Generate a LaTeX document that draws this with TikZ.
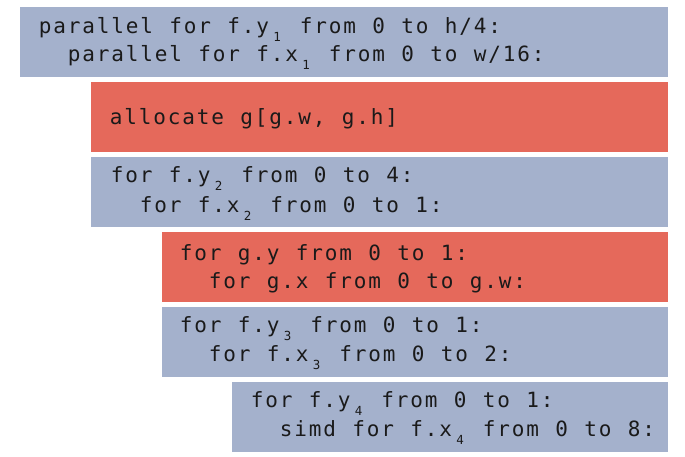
\documentclass[tikz,border=0pt]{standalone}
\usepackage{fontspec}
\newfontfamily\codefont{DejaVu Sans Mono}
\definecolor{boxblue}{HTML}{A4B1CC}
\definecolor{boxred}{HTML}{E5695B}
\definecolor{codeink}{HTML}{1A1A1A}
\newlength\cellw
\setlength\cellw{14.5pt}
\ExplSyntaxOn
\NewDocumentCommand\mono{m}{ \str_map_inline:nn {#1} { \makebox[\cellw][c]{##1} } }
\ExplSyntaxOff
\newcommand\sbs[1]{\makebox[\cellw][c]{\raisebox{-8pt}{\fontsize{12.5}{12.5}\selectfont #1}}}
\tikzset{
  panel/.style={draw=none, inner sep=0pt, outer sep=0pt, anchor=north west,
    minimum height=70pt},
  bluepanel/.style={panel, fill=boxblue},
  redpanel/.style={panel, fill=boxred},
  codeline/.style={anchor=base west, inner sep=0pt, outer sep=0pt,
    text=codeink, font=\codefont\fontsize{21}{21}\selectfont}
}
\begin{document}
\begin{tikzpicture}[x=1pt, y=-1pt]
\useasboundingbox (0,0) rectangle (685,457);
% panels
\node[bluepanel, minimum width=648pt] (p1) at (20,7) {};
\node[redpanel,  minimum width=577pt] (p2) at (91,82) {};
\node[bluepanel, minimum width=577pt] (p3) at (91,157) {};
\node[redpanel,  minimum width=506pt] (p4) at (162,232) {};
\node[bluepanel, minimum width=506pt] (p5) at (162,307) {};
\node[bluepanel, minimum width=436pt] (p6) at (232,382) {};
% code
\node[codeline] (c1a) at ([shift={(18,27)}]p1.north west) {\mono{parallel for f.y}\sbs{1}\mono{ from 0 to h/4:}};
\node[codeline] (c1b) at ([shift={(47,55)}]p1.north west) {\mono{parallel for f.x}\sbs{1}\mono{ from 0 to w/16:}};
\node[codeline] (c2)  at ([shift={(18,43)}]p2.north west) {\mono{allocate g[g.w, g.h]}};
\node[codeline] (c3a) at ([shift={(19,26)}]p3.north west) {\mono{for f.y}\sbs{2}\mono{ from 0 to 4:}};
\node[codeline] (c3b) at ([shift={(48,55)}]p3.north west) {\mono{for f.x}\sbs{2}\mono{ from 0 to 1:}};
\node[codeline] (c4a) at ([shift={(17,28)}]p4.north west) {\mono{for g.y from 0 to 1:}};
\node[codeline] (c4b) at ([shift={(46,56)}]p4.north west) {\mono{for g.x from 0 to g.w:}};
\node[codeline] (c5a) at ([shift={(17,25)}]p5.north west) {\mono{for f.y}\sbs{3}\mono{ from 0 to 1:}};
\node[codeline] (c5b) at ([shift={(46,54)}]p5.north west) {\mono{for f.x}\sbs{3}\mono{ from 0 to 2:}};
\node[codeline] (c6a) at ([shift={(18,25)}]p6.north west) {\mono{for f.y}\sbs{4}\mono{ from 0 to 1:}};
\node[codeline] (c6b) at ([shift={(47,54)}]p6.north west) {\mono{simd for f.x}\sbs{4}\mono{ from 0 to 8:}};
\end{tikzpicture}
\end{document}
